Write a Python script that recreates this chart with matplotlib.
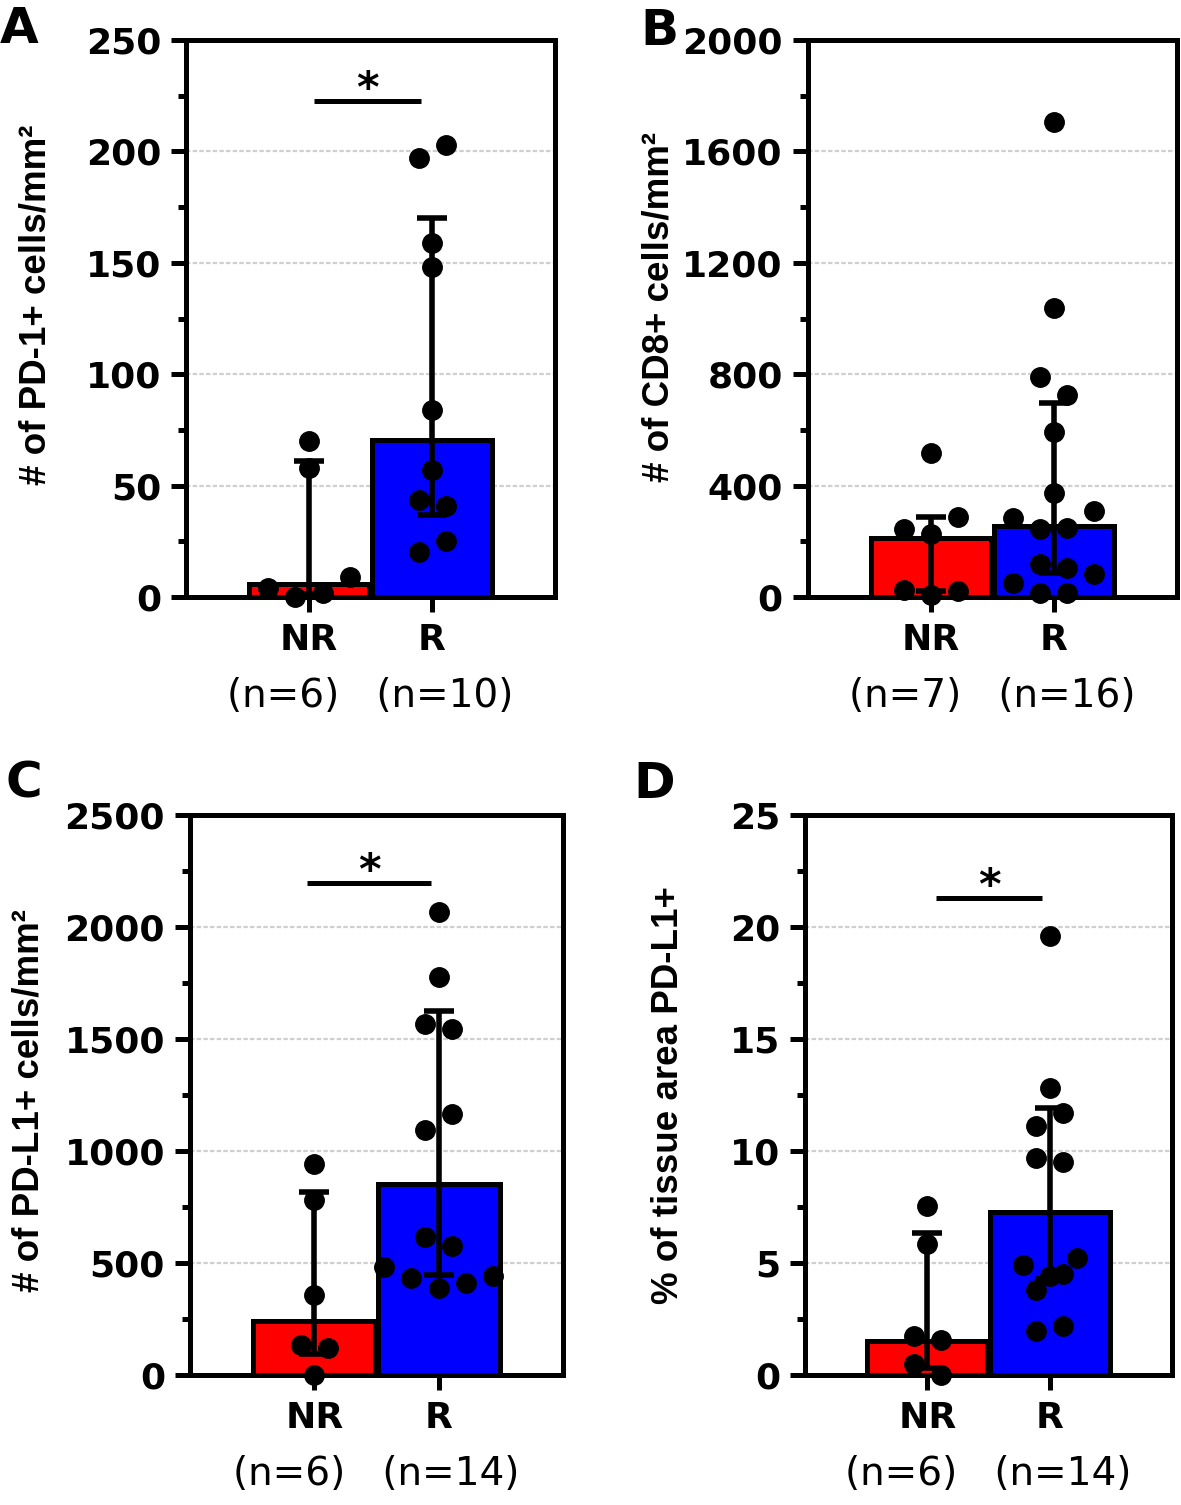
import numpy as np
import matplotlib
matplotlib.use('Agg')
import matplotlib.pyplot as plt
from matplotlib.ticker import MultipleLocator

plt.rcParams['font.family'] = 'DejaVu Sans'
plt.rcParams['font.weight'] = 'bold'

groups = ['NR', 'R']
bar_colors = ['#ff0000', '#0000ff']

# A - PD-1+ cells/mm2
pd1_nr = [70, 58, 4, 0, 2, 9]
pd1_r = [197, 203, 159, 148, 84, 57, 43.5, 41, 20, 25]
pd1_med = [6, 70.5]
pd1_q1 = [1.5, 37]
pd1_q3 = [61, 170]
pd1_n = [6, 10]

# B - CD8+ cells/mm2
cd8_nr = [517, 244, 226, 287, 25, 7, 22]
cd8_r = [1705, 1038, 790, 725, 592, 373, 284, 244, 248, 309, 50, 118, 104, 83, 14, 14]
cd8_med = [212, 255]
cd8_q1 = [22, 86]
cd8_q3 = [287, 697]
cd8_n = [7, 16]

# C - PD-L1+ cells/mm2
pdl1_nr = [942, 781, 357, 134, 120, 0]
pdl1_r = [2067, 1777, 1565, 1545, 1094, 1165, 616, 576, 482, 433, 388, 411, 442]
pdl1_med = [241, 853]
pdl1_q1 = [94, 446]
pdl1_q3 = [817, 1625]
pdl1_n = [6, 14]

# D - % tissue area PD-L1+
area_nr = [7.54, 5.85, 1.74, 1.56, 0.49, 0]
area_r = [19.6, 12.8, 11.1, 11.7, 9.7, 9.5, 4.9, 4.4, 5.2, 3.8, 4.5, 1.96, 2.2]
area_med = [1.52, 7.28]
area_q1 = [0.3, 4.28]
area_q3 = [6.34, 11.9]
area_n = [6, 14]


def swarm(vals, thr, step=0.22):
    # group points of similar height into rows and spread each row sideways
    rows = []
    for i, v in enumerate(vals):
        if rows:
            cur = [vals[j] for j in rows[-1]] + [v]
            if max(cur) - min(cur) <= thr:
                rows[-1].append(i)
                continue
        rows.append([i])
    offs = np.zeros(len(vals))
    for row in rows:
        k = len(row)
        for m, j in enumerate(row):
            offs[j] = (m - (k - 1) / 2) * step
    return offs


def draw_panel(ax, nr, r, med, q1, q3, ns, ymax, major, ylabel, lab_xy, sig=None):
    x = np.arange(2)
    med = np.array(med, dtype=float)
    ax.bar(x, med, width=0.98, color=bar_colors, edgecolor='black', linewidth=3.6, zorder=2)
    yerr = [med - np.array(q1), np.array(q3) - med]
    ax.errorbar(x, med, yerr=yerr, fmt='none', ecolor='black', elinewidth=4,
                capsize=11, capthick=4, zorder=3)
    for i, vals in enumerate([nr, r]):
        offs = swarm(vals, 0.04 * ymax)
        ax.plot(i + offs, vals, 'o', color='black', ms=14, zorder=4, clip_on=False)

    ax.set_xlim(-1, 2)
    ax.set_ylim(0, ymax)
    ax.yaxis.set_major_locator(MultipleLocator(major))
    ax.yaxis.set_minor_locator(MultipleLocator(major / 2))
    ax.set_xticks(x)
    ax.set_xticklabels(groups)
    ax.tick_params(axis='y', which='major', length=11, width=3.6, labelsize=26, pad=7)
    ax.tick_params(axis='y', which='minor', length=6, width=3.6)
    ax.tick_params(axis='x', length=11, width=3.6, labelsize=26, pad=8)
    for s in ax.spines.values():
        s.set_linewidth(3.6)
    ax.set_axisbelow(True)
    ax.grid(axis='y', color='#cfcfcf', linestyle=(0, (2, 1)), linewidth=1.6)

    ax.set_ylabel(ylabel, family='Liberation Sans', fontsize=26.5, fontweight='bold')
    ax.yaxis.set_label_coords(*lab_xy)

    ax.annotate(f'(n={ns[0]})   (n={ns[1]})', xy=(0.5, 0), xycoords=('data', 'axes fraction'),
                xytext=(0, -71), textcoords='offset points', ha='center', va='center',
                fontsize=28, fontweight='normal')

    if sig is not None:
        x0, x1, yf = sig
        ax.plot([x0, x1], [yf * ymax, yf * ymax], color='black', lw=3.6, zorder=5,
                solid_capstyle='butt')
        ax.annotate('*', xy=((x0 + x1) / 2, yf * ymax), xytext=(0, -7),
                    textcoords='offset points', ha='center', va='bottom',
                    fontsize=31, fontweight='bold')


fig = plt.figure(figsize=(11.81, 15.05), dpi=100)
axA = fig.add_axes([0.1575, 0.6033, 0.3125, 0.3701])
axB = fig.add_axes([0.684, 0.6033, 0.3125, 0.3701])
axC = fig.add_axes([0.1609, 0.0864, 0.3158, 0.3721])
axD = fig.add_axes([0.6816, 0.0864, 0.3108, 0.3721])

draw_panel(axA, pd1_nr, pd1_r, pd1_med, pd1_q1, pd1_q3, pd1_n, 250, 50,
           '# of PD-1+ cells/mm²', (-0.36, 0.524), sig=(0.04, 0.91, 0.89))
draw_panel(axB, cd8_nr, cd8_r, cd8_med, cd8_q1, cd8_q3, cd8_n, 2000, 400,
           '# of CD8+ cells/mm²', (-0.355, 0.52))
draw_panel(axC, pdl1_nr, pdl1_r, pdl1_med, pdl1_q1, pdl1_q3, pdl1_n, 2500, 500,
           '# of PD-L1+ cells/mm²', (-0.385, 0.49), sig=(-0.06, 0.94, 0.878))
draw_panel(axD, area_nr, area_r, area_med, area_q1, area_q3, area_n, 25, 5,
           '% of tissue area PD-L1+', (-0.325, 0.5), sig=(0.07, 0.94, 0.852))

for lbl, (px, py) in zip('ABCD', [(0, 5), (640, 7), (6, 760), (633, 760)]):
    fig.text(px / 1181, 1 - py / 1505, lbl, ha='left', va='top', fontsize=36, fontweight='bold')

fig.savefig('out.png', dpi=100)
